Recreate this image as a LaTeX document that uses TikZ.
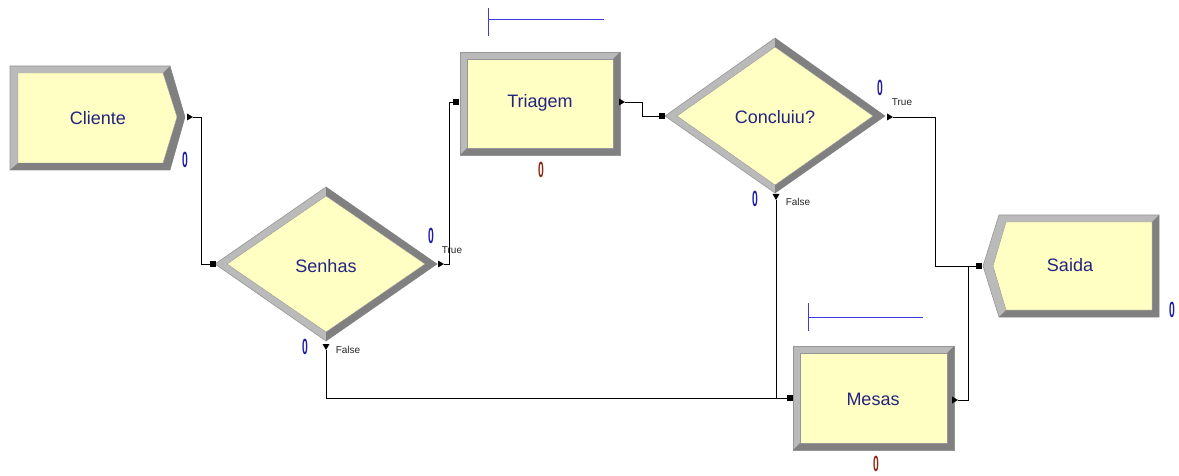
\documentclass[tikz,border=0pt]{standalone}
\usepackage{fontspec}
\setmainfont{Liberation Sans}
\usetikzlibrary{calc}
\definecolor{modfill}{RGB}{255,255,196}
\definecolor{bevlight}{RGB}{186,186,186}
\definecolor{bevdark}{RGB}{128,128,128}
\definecolor{bevline}{RGB}{150,150,150}
\definecolor{modtext}{RGB}{35,35,130}
\definecolor{cntblue}{RGB}{30,30,165}
\definecolor{cntred}{RGB}{140,40,20}
\definecolor{qblue}{RGB}{60,60,225}
\tikzset{
  light/.style={fill=bevlight,draw=bevline,line width=0.6pt},
  dark/.style={fill=bevdark},
  inner/.style={fill=modfill,draw=bevline,line width=0.4pt},
  modlabel/.style={font=\fontsize{18}{20}\selectfont,text=modtext,inner sep=0pt},
  bluezero/.style={font=\fontsize{22}{22}\selectfont\bfseries,text=cntblue,inner sep=0pt},
  redzero/.style={font=\fontsize{22}{22}\selectfont\bfseries,text=cntred,inner sep=0pt},
  branch/.style={font=\fontsize{10}{10}\selectfont,text=black!85,inner sep=0pt},
  conn/.style={draw=black,line width=0.8pt},
  queueline/.style={draw=qblue,line width=1pt},
  portsq/.style={fill=black},
}
\newcommand{\zerotxt}{\scalebox{0.47}[1]{0}}
\begin{document}
\begin{tikzpicture}[x=1pt,y=-1pt]
\useasboundingbox (0,0) rectangle (1179,476);

% ---------- Cliente (create) ----------
\fill[light] (10,66) -- (170,66) -- (185,117) -- (170,170) -- (10,170) -- cycle;
\fill[dark] (170,66) -- (185,117) -- (170,170) -- (10,170) -- (18,163) -- (163,163) -- (177,117) -- (163,73) -- cycle;
\filldraw[inner] (18,73) -- (163,73) -- (177,117) -- (163,163) -- (18,163) -- cycle;
\node[modlabel] (cliente) at (98,118) {Cliente};
\node[bluezero] (cliente-n) at (185,160) {\zerotxt};

% ---------- Senhas (decide) ----------
\fill[light] (215,264) -- (326,187) -- (437,264) -- (326,341) -- cycle;
\fill[dark] (326,187) -- (437,264) -- (326,341) -- (326,332) -- (425,264) -- (326,196) -- cycle;
\filldraw[inner] (227,264) -- (326,196) -- (425,264) -- (326,332) -- cycle;
\node[modlabel] (senhas) at (326,266) {Senhas};
\node[bluezero] (senhas-tn) at (431,236) {\zerotxt};
\node[branch] (senhas-t) at (452,250) {True};
\node[bluezero] (senhas-fn) at (305,347) {\zerotxt};
\node[branch] (senhas-f) at (348,350) {False};

% ---------- Triagem (process) ----------
\fill[light] (460,52) rectangle (620,155);
\fill[dark] (620,52) -- (620,155) -- (460,155) -- (467,148) -- (613,148) -- (613,59) -- cycle;
\filldraw[inner] (467,59) rectangle (613,148);
\node[modlabel] (triagem) at (540,103) {Triagem};
\node[redzero] (triagem-n) at (541,170) {\zerotxt};
\coordinate (tq-a) at (488,8);
\coordinate (tq-b) at (488,36);
\coordinate (tq-c) at (488,20);
\coordinate (tq-d) at (604,20);
\draw[queueline] (tq-a) -- (tq-b);
\draw[queueline] (tq-c) -- (tq-d);

% ---------- Concluiu? (decide) ----------
\fill[light] (665,116) -- (775,38) -- (885,116) -- (775,193) -- cycle;
\fill[dark] (775,38) -- (885,116) -- (775,193) -- (775,185) -- (873,116) -- (775,47) -- cycle;
\filldraw[inner] (677,116) -- (775,47) -- (873,116) -- (775,185) -- cycle;
\node[modlabel] (concluiu) at (775,117) {Concluiu?};
\node[bluezero] (concluiu-tn) at (880,88) {\zerotxt};
\node[branch] (concluiu-t) at (902,102) {True};
\node[bluezero] (concluiu-fn) at (755,199) {\zerotxt};
\node[branch] (concluiu-f) at (798,202) {False};

% ---------- Saida (dispose) ----------
\fill[light] (983,266) -- (999,215) -- (1159,215) -- (1159,317) -- (999,317) -- cycle;
\fill[dark] (1159,215) -- (1159,317) -- (999,317) -- (1006,310) -- (1152,310) -- (1152,222) -- cycle;
\filldraw[inner] (993,266) -- (1006,222) -- (1152,222) -- (1152,310) -- (1006,310) -- cycle;
\node[modlabel] (saida) at (1070,265) {Saida};
\node[bluezero] (saida-n) at (1172,310) {\zerotxt};

% ---------- Mesas (process) ----------
\fill[light] (793,346) rectangle (954,450);
\fill[dark] (954,346) -- (954,450) -- (793,450) -- (800,443) -- (947,443) -- (947,353) -- cycle;
\filldraw[inner] (800,353) rectangle (947,443);
\node[modlabel] (mesas) at (873,399) {Mesas};
\node[redzero] (mesas-n) at (876,464) {\zerotxt};
\coordinate (mq-a) at (808,303);
\coordinate (mq-b) at (808,331);
\coordinate (mq-c) at (808,317);
\coordinate (mq-d) at (923,317);
\draw[queueline] (mq-a) -- (mq-b);
\draw[queueline] (mq-c) -- (mq-d);

% ---------- ports ----------
\coordinate (cl-out) at (193,117);
\coordinate (sen-in) at (213,264);
\coordinate (sen-true) at (444,264);
\coordinate (sen-false) at (326,350);
\coordinate (tri-in) at (456,102);
\coordinate (tri-out) at (625,102);
\coordinate (con-in) at (662,116);
\coordinate (con-true) at (893,117);
\coordinate (con-false) at (776,200);
\coordinate (sai-in) at (979,266);
\coordinate (mes-in) at (790,398);
\coordinate (mes-out) at (958,400);

% ---------- connectors ----------
\draw[conn] (cl-out) -- ++(8,0) |- (sen-in);
\draw[conn] (sen-true) -- ++(5,0) |- (tri-in);
\draw[conn] (tri-out) -- ++(17,0) |- (con-in);
\draw[conn] (con-true) -- ++(42,0) |- (sai-in);
\draw[conn] (sen-false) |- (mes-in);
\draw[conn] (con-false) -- (con-false |- mes-in);
\draw[conn] (mes-out) -- ++(10,0) |- (sai-in);

% entry squares
\foreach \p in {sen-in,tri-in,con-in,sai-in,mes-in}{
  \fill[portsq] ($(\p)+(-3,-3)$) rectangle ($(\p)+(3,3)$);
}
% exit triangles (pointing right)
\foreach \p in {cl-out,sen-true,tri-out,con-true,mes-out}{
  \fill ($(\p)+(-6,-3.5)$) -- (\p) -- ($(\p)+(-6,3.5)$) -- cycle;
}
% exit triangles (pointing down)
\foreach \p in {sen-false,con-false}{
  \fill ($(\p)+(-3.5,-6)$) -- (\p) -- ($(\p)+(3.5,-6)$) -- cycle;
}
\end{tikzpicture}
\end{document}
